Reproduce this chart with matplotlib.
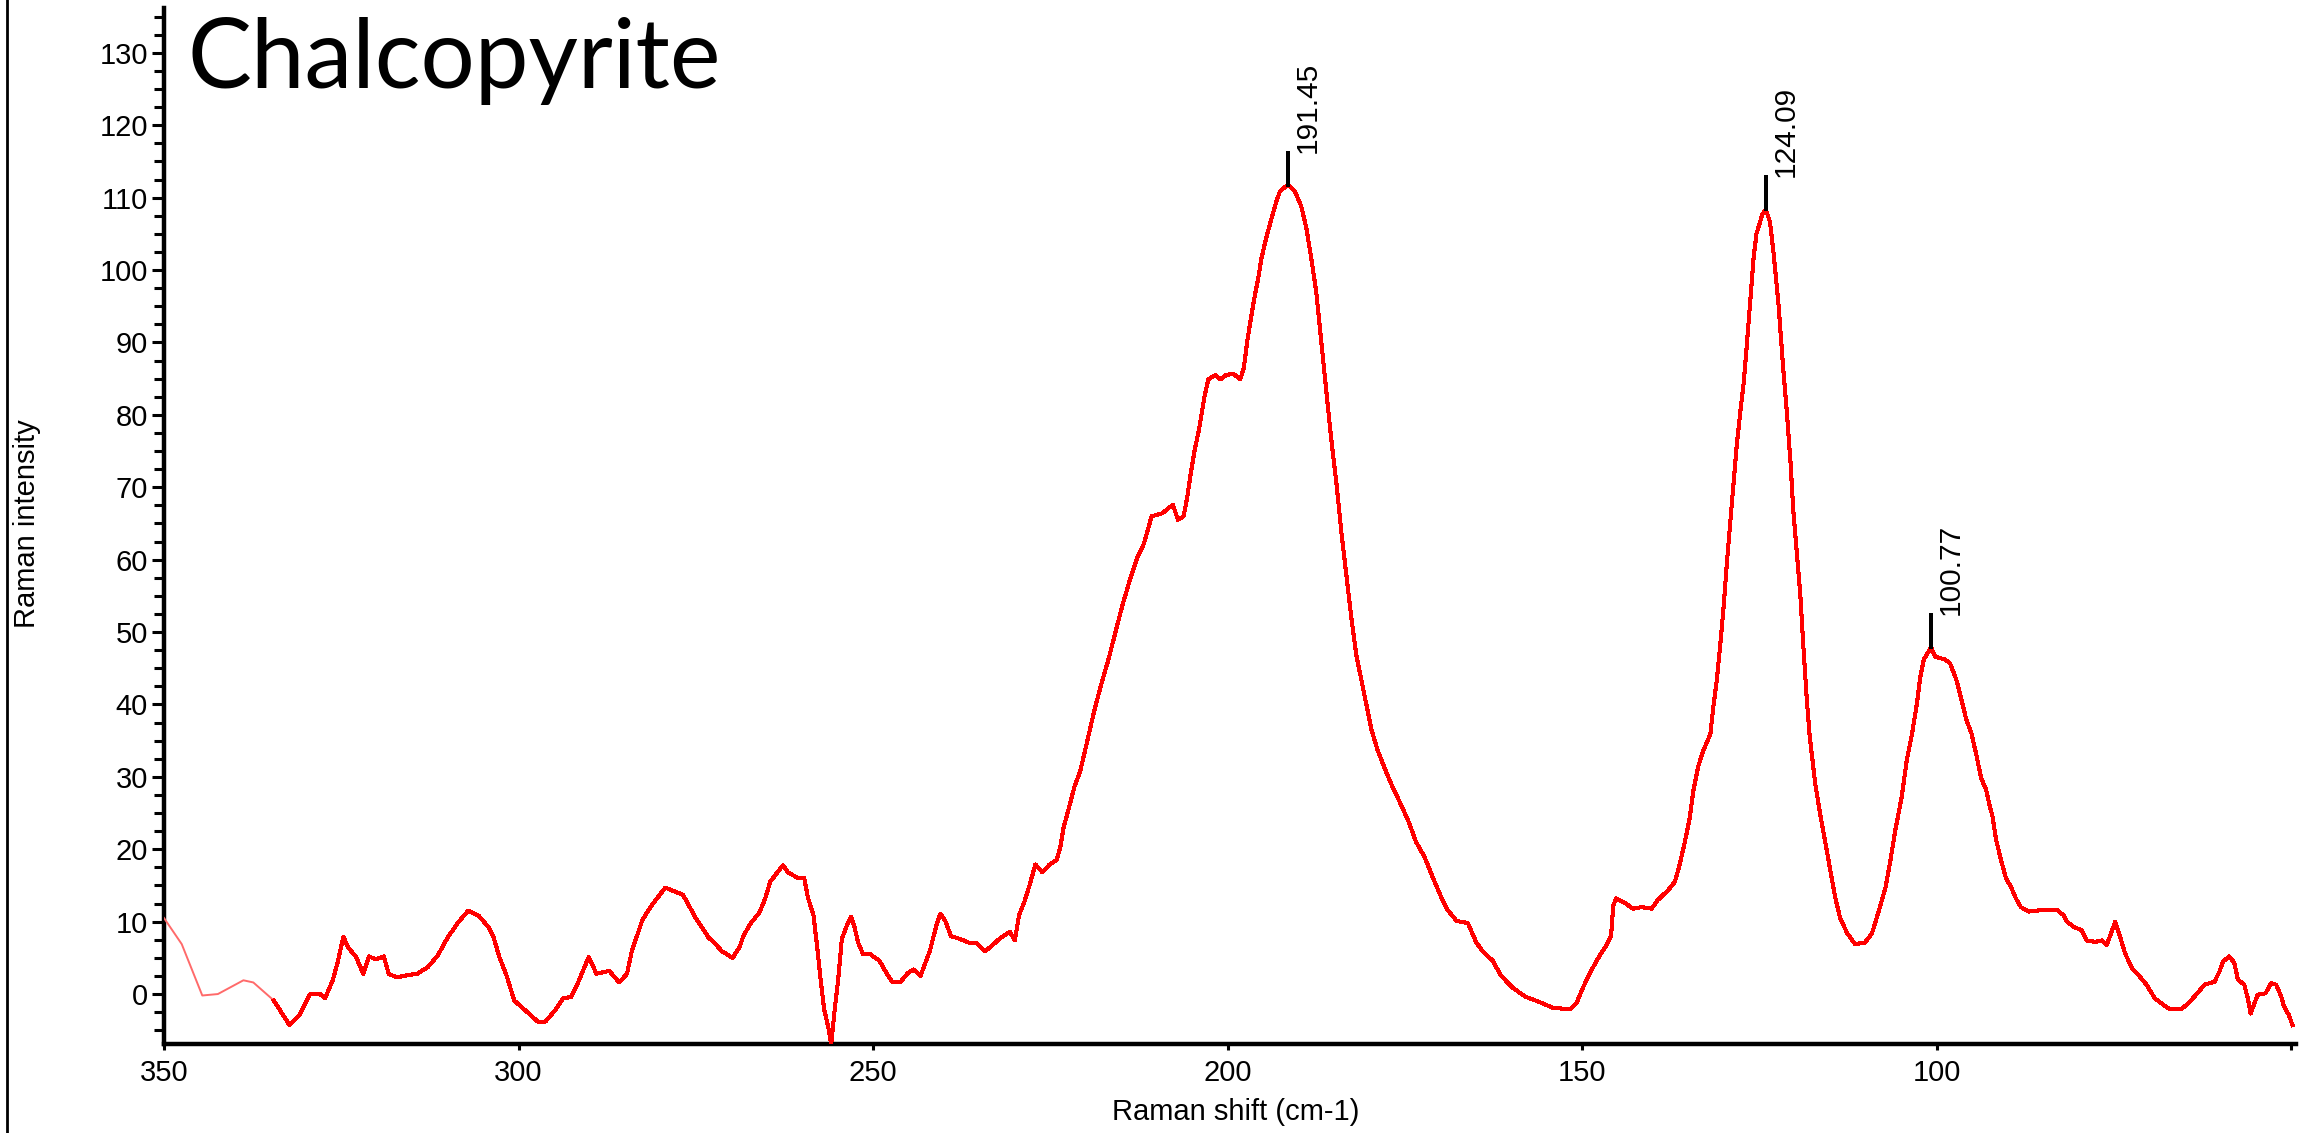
import numpy as np
import matplotlib
matplotlib.use("Agg")
import matplotlib.pyplot as plt
from matplotlib.lines import Line2D

# Raman spectrum of chalcopyrite (shift cm-1 -> intensity)
shift = [350.0, 347.5, 344.6, 342.4, 338.8, 337.4, 334.5, 332.3, 330.9, 329.4, 328.0, 327.3,
         326.2, 325.5, 324.7, 324.0, 322.9, 321.9, 321.1, 320.1, 319.0, 318.3, 317.2, 315.7,
         314.3, 312.8, 311.4, 310.0, 308.5, 307.1, 305.6, 304.2, 303.5, 302.7, 301.7, 300.6,
         299.1, 297.3, 296.2, 294.8, 293.7, 292.6, 291.6, 290.1, 289.0, 287.2, 285.8, 284.7,
         284.0, 282.5, 281.1, 279.3, 276.8, 275.0, 273.2, 272.3, 271.3, 269.8, 268.8, 268.3,
         267.3, 266.0, 265.2, 264.5, 263.5, 262.7, 262.0, 260.7, 259.7, 259.2, 258.4, 257.9,
         257.4, 256.9, 256.3, 255.9, 255.4, 254.9, 254.4, 253.6, 253.1, 252.6, 252.1, 251.4,
         250.4, 249.1, 248.1, 247.3, 246.1, 245.1, 244.3, 243.3, 242.8, 242.0, 241.0, 240.5,
         239.8, 239.0, 237.7, 236.5, 235.5, 234.2, 233.2, 232.2, 230.7, 230.0, 229.4, 228.7,
         227.9, 227.1, 226.1, 225.1, 224.1, 223.6, 223.1, 222.4, 221.6, 220.8, 220.1, 219.3,
         218.6, 217.8, 216.8, 215.8, 214.8, 213.8, 212.8, 211.8, 210.7, 209.2, 208.2, 207.7,
         207.0, 206.2, 205.7, 205.2, 204.7, 204.0, 203.2, 202.7, 201.7, 201.0, 200.2, 199.2,
         198.2, 197.7, 197.2, 196.7, 196.2, 195.7, 195.2, 194.5, 193.8, 193.1, 192.6, 191.45,
         190.5, 189.6, 188.9, 188.2, 187.5, 186.8, 186.1, 185.4, 184.6, 183.9, 183.2, 182.5,
         181.8, 181.1, 180.4, 179.7, 178.8, 177.8, 176.9, 175.7, 174.5, 173.4, 172.2, 171.0,
         170.1, 169.1, 167.7, 166.1, 164.9, 164.0, 162.6, 161.4, 159.7, 157.9, 156.0, 154.1,
         151.7, 150.8, 149.9, 148.9, 147.7, 146.6, 145.9, 145.6, 145.2, 144.0, 142.8, 141.6,
         140.2, 139.3, 137.9, 136.9, 136.2, 135.5, 134.8, 134.3, 133.6, 132.9, 131.9, 131.5,
         131.0, 130.5, 130.0, 129.6, 129.1, 128.6, 128.2, 127.7, 127.2, 126.8, 126.3, 125.8,
         125.4, 124.6, 124.09, 123.5, 123.0, 122.3, 121.6, 121.1, 120.6, 120.2, 119.7, 119.2,
         118.8, 118.3, 117.9, 117.1, 116.4, 115.7, 115.0, 114.3, 113.6, 112.6, 111.5, 110.1,
         109.1, 108.2, 107.2, 106.5, 105.8, 104.9, 104.2, 103.5, 102.8, 102.3, 101.8, 100.77,
         100.2, 98.8, 98.1, 97.2, 96.5, 95.8, 95.1, 94.4, 93.7, 93.0, 92.6, 92.1,
         91.6, 90.9, 90.2, 89.5, 88.8, 88.1, 87.0, 85.1, 83.0, 82.1, 81.6, 80.7,
         79.5, 78.8, 77.6, 76.7, 76.0, 75.5, 74.8, 74.1, 73.4, 72.4, 71.5, 70.4,
         69.2, 68.0, 67.1, 65.5, 64.5, 63.4, 62.2, 60.8, 60.1, 59.6, 58.7, 58.0,
         57.5, 56.6, 56.1, 55.7, 54.7, 53.6, 52.8, 52.1, 51.4, 51.0, 50.3, 49.8]
intensity = [10.5, 6.9, -0.2, 0.0, 1.9, 1.6, -0.9, -4.3, -2.9, 0.0, 0.0, -0.6,
             1.9, 4.4, 7.9, 6.4, 5.1, 2.8, 5.2, 4.8, 5.2, 2.8, 2.3, 2.6,
             2.8, 3.7, 5.3, 7.8, 9.9, 11.5, 10.8, 9.2, 7.8, 5.1, 2.6, -0.9,
             -2.2, -3.8, -3.8, -2.2, -0.6, -0.4, 1.6, 5.1, 2.8, 3.2, 1.6, 2.8,
             6.0, 10.3, 12.4, 14.7, 13.7, 10.5, 7.8, 7.0, 5.9, 5.0, 6.5, 8.0,
             9.7, 11.3, 13.2, 15.5, 16.8, 17.8, 16.8, 16.1, 16.0, 13.4, 10.9, 6.7,
             2.1, -2.1, -4.6, -7.0, -2.1, 2.1, 7.6, 9.7, 10.7, 9.2, 7.1, 5.5,
             5.5, 4.6, 2.9, 1.7, 1.7, 2.9, 3.4, 2.5, 3.8, 5.9, 9.7, 11.1,
             10.1, 8.0, 7.6, 7.1, 7.1, 5.9, 6.7, 7.6, 8.6, 7.4, 10.9, 12.6,
             15.1, 17.9, 16.8, 17.9, 18.5, 20.2, 23.1, 25.6, 28.6, 30.7, 33.6, 37.0,
             39.9, 42.8, 46.2, 50.0, 53.8, 57.1, 60.1, 62.2, 66.0, 66.4, 67.2, 67.6,
             65.5, 66.0, 68.5, 71.8, 74.8, 78.1, 82.8, 84.9, 85.5, 84.9, 85.5, 85.7,
             84.9, 86.5, 90.3, 93.3, 96.2, 98.7, 101.7, 104.6, 107.1, 109.5, 110.9, 111.8,
             110.9, 108.8, 105.9, 101.7, 97.1, 90.3, 83.6, 76.9, 70.2, 63.4, 57.6, 51.7,
             46.6, 43.3, 39.9, 36.5, 33.6, 31.1, 29.0, 26.5, 23.9, 21.0, 18.9, 16.0,
             13.9, 11.8, 10.1, 9.8, 7.1, 5.9, 4.6, 2.5, 0.8, -0.4, -1.1, -1.9,
             -2.1, -1.3, 0.8, 2.9, 5.0, 6.7, 8.0, 12.2, 13.2, 12.6, 11.8, 12.0,
             11.8, 13.0, 14.3, 15.5, 18.0, 21.0, 24.4, 28.1, 31.5, 33.6, 35.9, 39.5,
             43.3, 48.3, 53.8, 59.2, 65.1, 71.0, 75.6, 80.2, 84.4, 89.1, 95.4, 101.7,
             105.0, 107.6, 108.4, 106.7, 102.5, 95.4, 86.1, 80.2, 73.5, 66.8, 60.9, 55.0,
             48.3, 40.7, 35.7, 29.0, 24.8, 21.0, 17.2, 13.4, 10.5, 8.4, 6.9, 7.1,
             8.4, 11.3, 14.7, 18.5, 22.7, 27.3, 32.3, 35.7, 39.9, 43.7, 46.2, 47.9,
             46.6, 46.2, 45.7, 43.4, 40.7, 37.9, 36.1, 33.1, 29.8, 28.2, 26.4, 24.5,
             21.3, 18.5, 16.0, 14.8, 13.2, 12.0, 11.4, 11.6, 11.6, 10.9, 10.0, 9.3,
             8.8, 7.4, 7.2, 7.4, 6.8, 8.1, 10.0, 7.9, 5.6, 3.5, 2.6, 1.3,
             -0.6, -1.5, -2.1, -2.1, -1.3, -0.1, 1.3, 1.7, 3.1, 4.5, 5.2, 4.3,
             2.0, 1.3, -0.6, -2.7, -0.1, 0.1, 1.5, 1.3, -0.3, -1.7, -2.9, -4.3]

peaks = [191.45, 124.09, 100.77]
xticks = [350, 300, 250, 200, 150, 100, 50]
xtick_labels = ["350", "300", "250", "200", "150", "100", ""]

x = np.array(shift)
y = np.array(intensity)

W, H = 2313, 1133
fig = plt.figure(figsize=(W / 100, H / 100), dpi=100)
ax = fig.add_axes([164 / W, 89 / H, (2296 - 164) / W, (1044 - 8) / H])

font = "Liberation Sans"

# first bit of the trace is drawn lighter in the original
light = x >= 334.5
ax.plot(x[light], y[light], color="#ff6a6a", lw=1.4, zorder=3)
k = np.argmin(light)  # first index of the solid part
ax.plot(x[k - 1:], y[k - 1:], color="#ff0000", lw=2.2, antialiased=False, zorder=3)

# peak markers
for p in peaks:
    top = np.interp(p, x[::-1], y[::-1])
    ax.plot([p, p], [top, top + 4.4], color="black", lw=1.6, antialiased=False, zorder=4)
    ax.annotate(f"{p:.2f}", xy=(p, top + 4.4), xytext=(4, 0), textcoords="offset points",
                rotation=90, ha="left", va="bottom", fontsize=21.5, family=font)

ax.set_xlim(350, 49.3)
ax.set_ylim(-6.9, 136.2)
ax.set_xticks(xticks)
ax.set_xticklabels(xtick_labels)
ax.set_yticks(np.arange(0, 131, 10))
ax.set_yticks(np.arange(-5, 136, 2.5), minor=True)

for s in ["top", "right"]:
    ax.spines[s].set_visible(False)
for s in ["left", "bottom"]:
    ax.spines[s].set_linewidth(3.2)

ax.tick_params(axis="y", which="major", length=8.5, width=2.2, pad=3, labelsize=21)
ax.tick_params(axis="y", which="minor", length=7, width=2.2)
ax.tick_params(axis="x", which="major", length=4.5, width=2.2, pad=6, labelsize=21)
for lab in ax.get_xticklabels() + ax.get_yticklabels():
    lab.set_family(font)

fig.text(27 / W, 1 - 524 / H, "Raman intensity", rotation=90, ha="center", va="center",
         fontsize=21, family=font)
fig.text(1236 / W, 1 - 1112 / H, "Raman shift (cm-1)", ha="center", va="center",
         fontsize=21, family=font)
fig.text(188 / W, 1 - 88 / H, "Chalcopyrite", fontsize=69, family="Lato", va="baseline")

# vertical rule at the far left of the slide
fig.add_artist(Line2D([7 / W, 7 / W], [0, 1], transform=fig.transFigure, color="black", lw=2))

fig.savefig("out.png", dpi=100)
